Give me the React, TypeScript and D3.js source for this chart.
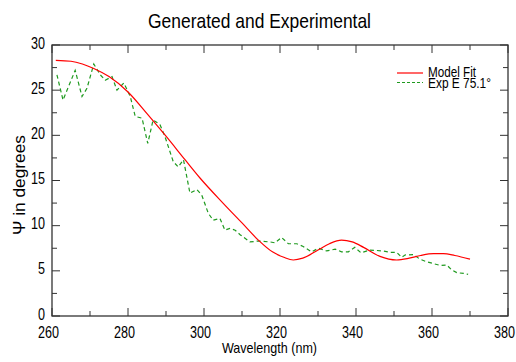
import React from "react";
import * as d3 from "d3";

// Model fit curve (wavelength nm, psi degrees)
const fitWavelength = [261, 265, 268, 271, 275, 280, 285, 290, 295, 299, 305, 310, 314.3, 318, 321, 323.5, 326, 330, 333, 336.2, 339, 342, 346.3, 350.7, 354, 357, 360.4, 363, 366, 370];
const fitPsi = [28.3, 28.2, 27.9, 27.4, 26.5, 24.8, 22.4, 19.9, 17.3, 15.25, 12.5, 10.3, 8.4, 7.1, 6.5, 6.2, 6.4, 7.3, 8.0, 8.4, 8.2, 7.6, 6.6, 6.2, 6.4, 6.7, 6.9, 6.9, 6.7, 6.3];

// Experimental data, Exp E 75.1°
const expWavelength = [261.3, 262.9, 266.1, 267.9, 269.2, 271.0, 272.7, 274.0, 275.8, 277.1, 278.9, 280.6, 281.9, 283.7, 285.2, 286.6, 288.4, 289.7, 291.9, 293.2, 294.6, 296.3, 298.1, 299.4, 301.1, 302.4, 304.2, 305.5, 306.8, 308.2, 309.5, 312.1, 314.3, 317.4, 318.7, 320.4, 322.2, 324.4, 326.1, 328.3, 330.1, 332.3, 334.5, 336.2, 338.0, 339.7, 341.3, 343.7, 347.2, 348.9, 350.7, 352.0, 352.9, 355.1, 356.8, 358.6, 360.4, 362.1, 363.9, 365.2, 366.5, 368.7, 369.5];
const expPsi = [26.7, 23.9, 27.2, 24.3, 25.2, 27.9, 26.7, 26.1, 26.5, 25.0, 25.8, 24.3, 22.1, 21.9, 19.1, 21.7, 21.2, 19.9, 17.1, 16.5, 17.3, 13.6, 14.0, 13.4, 11.4, 10.6, 10.8, 9.5, 9.7, 9.5, 9.0, 8.2, 8.3, 8.2, 8.1, 8.7, 8.0, 8.0, 7.7, 7.1, 7.5, 7.2, 7.4, 7.1, 7.1, 7.6, 7.0, 7.3, 7.2, 7.05, 7.05, 6.5, 6.75, 6.8, 6.3, 6.0, 5.8, 5.6, 5.65, 5.1, 4.8, 4.7, 4.6];

const xMajorTicks = [260, 280, 300, 320, 340, 360, 380];
const xMinorTicks = [270, 290, 310, 330, 350, 370];
const yMajorTicks = [0, 5, 10, 15, 20, 25, 30];
const yMinorTicks = [2.5, 7.5, 12.5, 17.5, 22.5, 27.5];

const titleText = "Generated and Experimental";
const xLabel = "Wavelength (nm)";
const yLabel = "\u03A8 in degrees";
const seriesNames = ["Model Fit", "Exp E 75.1\u00B0"];

const W = 516;
const H = 362;
const FONT = "'Liberation Sans', Arial, sans-serif";

// condensed text: squeeze glyphs into a given width
function Narrow(props: { x: number; y: number; w: number; size: number; anchor?: string; transform?: string; children: string }) {
  return (
    <text
      x={props.x}
      y={props.y}
      transform={props.transform}
      textAnchor={props.anchor || "start"}
      fontSize={props.size}
      textLength={props.w}
      lengthAdjust="spacingAndGlyphs"
      fill="#000"
    >
      {props.children}
    </text>
  );
}

export default function App() {
  const left = 52, right = 508, top = 45, bottom = 316;
  const x = d3.scaleLinear().domain([260, 380]).range([left, right]);
  const y = d3.scaleLinear().domain([0, 30]).range([bottom, top]);

  const fitPts: [number, number][] = fitWavelength.map((w, i) => [w, fitPsi[i]]);
  const expPts: [number, number][] = expWavelength.map((w, i) => [w, expPsi[i]]);

  const fitLine = d3.line<[number, number]>().x(d => x(d[0])).y(d => y(d[1])).curve(d3.curveMonotoneX);
  const expLine = d3.line<[number, number]>().x(d => x(d[0])).y(d => y(d[1]));

  const axisColor = "#333";
  const majorLen = 8;
  const minorLen = 5;
  const digitW = 7;

  return (
    <svg width={W} height={H} style={{ position: "fixed", left: 0, top: 0, background: "#fff" }} fontFamily={FONT}>
      <rect x={0} y={0} width={W} height={H} fill="#fff" />
      <Narrow x={259.5} y={28} w={223} size={21} anchor="middle">{titleText}</Narrow>

      {/* frame */}
      <rect x={left} y={top} width={right - left} height={bottom - top} fill="none" stroke={axisColor} strokeWidth={1.3} />

      {/* x ticks (bottom and top, pointing inward) */}
      {xMajorTicks.map(t => (
        <g key={"xm" + t}>
          <line x1={x(t)} x2={x(t)} y1={bottom} y2={bottom - majorLen} stroke={axisColor} strokeWidth={1} />
          <line x1={x(t)} x2={x(t)} y1={top} y2={top + majorLen} stroke={axisColor} strokeWidth={1} />
          <Narrow x={x(t) - 3.5} y={338} w={String(t).length * digitW} size={17} anchor="middle">{String(t)}</Narrow>
        </g>
      ))}
      {xMinorTicks.map(t => (
        <g key={"xn" + t}>
          <line x1={x(t)} x2={x(t)} y1={bottom} y2={bottom - minorLen} stroke={axisColor} strokeWidth={1} />
          <line x1={x(t)} x2={x(t)} y1={top} y2={top + minorLen} stroke={axisColor} strokeWidth={1} />
        </g>
      ))}

      {/* y ticks (left and right, pointing inward) */}
      {yMajorTicks.map(t => (
        <g key={"ym" + t}>
          <line x1={left} x2={left + majorLen} y1={y(t)} y2={y(t)} stroke={axisColor} strokeWidth={1} />
          <line x1={right} x2={right - majorLen} y1={y(t)} y2={y(t)} stroke={axisColor} strokeWidth={1} />
          <Narrow x={45} y={y(t) + 3.5} w={String(t).length * digitW} size={17} anchor="end">{String(t)}</Narrow>
        </g>
      ))}
      {yMinorTicks.map(t => (
        <g key={"yn" + t}>
          <line x1={left} x2={left + minorLen} y1={y(t)} y2={y(t)} stroke={axisColor} strokeWidth={1} />
          <line x1={right} x2={right - minorLen} y1={y(t)} y2={y(t)} stroke={axisColor} strokeWidth={1} />
        </g>
      ))}

      <Narrow x={269.5} y={353} w={95} size={15} anchor="middle">{xLabel}</Narrow>
      <Narrow x={0} y={0} w={100} size={17} anchor="middle" transform="translate(25,185) rotate(-90)">{yLabel}</Narrow>

      {/* series */}
      <path d={expLine(expPts) || ""} fill="none" stroke="#1f9a1f" strokeWidth={1.2} strokeDasharray="4,3" />
      <path d={fitLine(fitPts) || ""} fill="none" stroke="#ff0000" strokeWidth={1.2} />

      {/* legend */}
      <line x1={397} x2={423} y1={73} y2={73} stroke="#ff0000" strokeWidth={1.2} />
      <Narrow x={428} y={77} w={48} size={14}>{seriesNames[0]}</Narrow>
      <line x1={397} x2={423} y1={82.5} y2={82.5} stroke="#1f9a1f" strokeWidth={1.2} strokeDasharray="3,2" />
      <Narrow x={428} y={87.5} w={63} size={14}>{seriesNames[1]}</Narrow>
    </svg>
  );
}
